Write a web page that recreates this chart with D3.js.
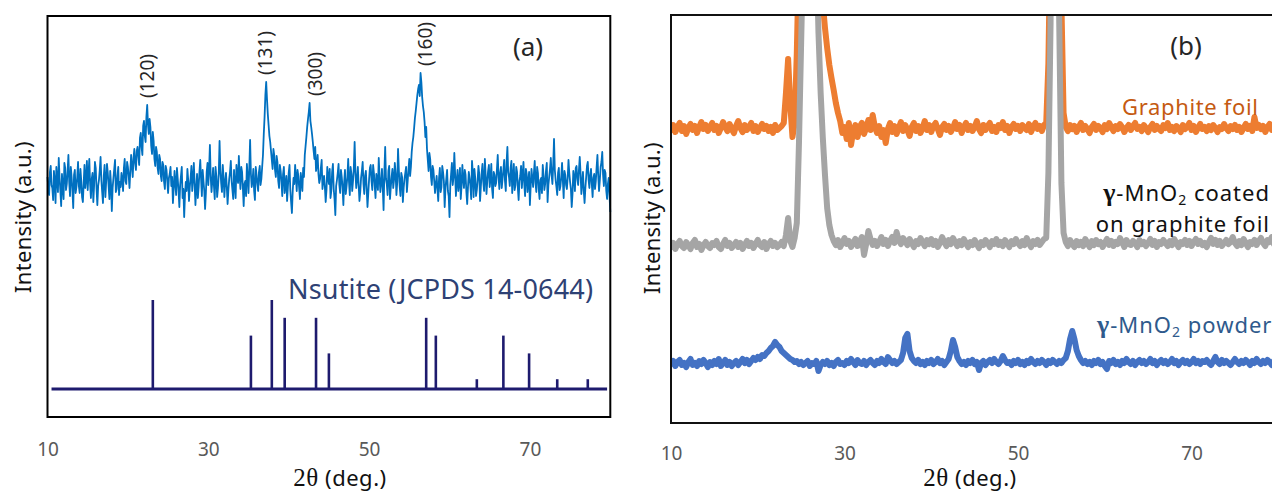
<!DOCTYPE html>
<html>
<head>
<meta charset="utf-8">
<script src="https://cdn.jsdelivr.net/npm/d3@7"></script>
<style>
  body { margin: 0; background: #fff; }
  svg { display: block; font-family: "Noto Sans", "Open Sans", sans-serif; }
</style>
</head>
<body>
<div id="chart"></div>
<script>
// ---- panel (a): measured pattern, 2theta from 10 to 80 step 0.1 ----
var scanStart = 10;
var scanEnd = 80;
var measuredA = [
  // 10.0 - 19.0
  240,228,222,245,251,232,229,217,246,236,214,250,238,225,259,239,226,211,243,230,
  218,254,249,227,233,246,262,235,221,250,240,226,209,242,247,224,230,240,255,231,
  224,248,236,220,215,234,252,229,238,256,227,243,258,233,219,238,244,215,232,255,
  249,228,212,231,237,247,260,237,225,214,241,252,220,236,253,244,231,218,246,233,
  206,229,239,248,257,225,228,241,250,222,235,
  230,
  // 19.2 - 25.2 (120)
  244,238,226,249,258,236,233,255,250,241,229,246,262,251,240,259,268,254,247,266,
  270,261,252,279,284,270,262,291,296,281,275,300,312,292,283,298,290,271,263,285,
  276,258,251,270,265,249,243,262,258,241,236,255,252,235,228,251,247,236,224,239,243,
  250,
  // 25.4 - 36.4
  231,240,214,229,246,233,222,249,238,226,210,232,241,250,219,228,200,222,235,226,
  248,237,216,230,239,251,226,238,254,233,212,229,243,219,230,245,257,238,221,247,
  236,226,208,224,245,254,232,248,272,240,225,236,249,231,218,250,241,220,229,243,
  276,247,234,225,252,239,220,235,244,230,213,227,238,245,256,236,227,218,247,231,
  219,252,240,234,261,241,228,250,245,229,211,233,236,221,253,240,224,249,277,243,
  230,236,248,226,217,250,242,233,226,245,251,
  232,
  // 36.6 - 39.0 (131)
  238,250,262,283,300,322,335,318,303,292,281,275,266,257,248,268,262,247,240,261,
  255,236,229,252,246,
  235,
  // 39.2 - 41.8
  221,243,250,224,232,241,216,230,244,252,227,215,204,226,239,233,252,240,226,247,
  241,229,218,244,236,226,249,
  240,
  // 42.0 - 44.0 (300)
  262,271,280,290,298,305,314,296,290,283,275,266,258,270,246,252,262,243,234,238,249,
  257,
  // 44.2 - 54.6
  228,236,241,230,215,227,250,240,233,248,219,226,245,253,228,218,202,231,237,244,
  253,232,224,247,240,229,212,235,247,223,231,240,258,235,222,250,243,226,236,249,
  275,244,229,238,250,232,216,225,239,246,255,233,223,241,246,228,210,224,238,249,
  252,236,227,252,244,231,219,243,236,227,259,240,225,234,248,229,207,245,270,238,
  233,222,246,251,218,230,240,248,229,237,254,243,222,235,268,247,231,221,244,240,
  215,229,238,244,250,
  225,
  // 54.8 - 58.0 (160)
  236,248,258,241,250,265,274,280,289,299,306,314,322,328,332,321,344,335,320,311,
  305,295,280,290,268,257,246,264,258,240,232,251,247,
  236,
  // 58.2 - 80.0
  224,233,241,228,216,239,249,225,230,251,245,236,210,229,238,247,226,221,200,232,
  243,254,232,240,264,243,221,236,247,226,234,249,218,231,252,238,229,247,242,225,
  213,230,245,239,231,218,256,244,220,248,239,221,227,237,251,243,216,230,244,253,
  235,226,258,241,223,236,246,252,230,238,253,228,219,245,242,231,234,248,262,240,
  228,244,250,229,238,247,257,236,226,255,270,245,240,231,249,256,224,239,253,227,
  232,250,245,229,217,236,241,251,229,242,255,233,221,248,243,225,236,245,212,231,
  248,239,230,244,256,234,225,250,244,228,218,237,239,224,252,241,227,233,246,254,
  215,232,240,248,259,242,233,252,278,247,237,230,222,244,249,227,231,240,254,236,
  219,246,242,232,228,239,257,244,235,228,210,223,246,240,226,249,251,238,232,247,
  260,244,223,234,245,226,214,229,240,251,255,237,229,242,248,233,220,239,243,228,
  236,250,262,241,226,237,250,255,265,242,231,247,244,226,218,233,239,222,205
];

// reference sticks, Nsutite JCPDS 14-0644 (2theta, relative intensity %)
var refPos = [23.1, 35.3, 37.9, 39.5, 43.4, 45.0, 57.1, 58.3, 63.4, 66.7, 69.9, 73.4, 77.2];
var refInt = [100, 60, 100, 80, 80, 40, 80, 60, 11, 60, 40, 11, 11];
var refSpan = [10.5, 79.6];

var hklLabels = ["(120)", "(131)", "(300)", "(160)"];
var hklAngle = [22.4, 37.1, 43.3, 56.9];

// ---- panel (b): three patterns, 2theta from 10 step 0.25 ----
var stepB = 0.25;
var graphiteFoil = [
  293,298,291,296, 300,292,297,289, 295,299,293,297, 290,296,301,294, 298,292,296,300,
  293,297,290,295, 301,296,292,299, 294,290,297,302, 295,291,298,293, 296,300,292,297,
  291,295,299,294, 297,292,296,290, 298,293,295,297, 300,330,364,318, 286,300,370,470,
  560,650,740,800, 830,800,740,650, 560,480,420,395, 375,358,345,333, 320,310,302,290,
  296,284,300,278, 292,298,286,296, 300,289,295,303, 293,308,296,290, 297,286,293,280,
  294,300,291,297, 289,295,301,292, 298,293,287,296, 300,292,297,290, 295,302,293,298,
  291,297,300,294, 288,296,299,293, 297,291,295,301, 294,298,290,296, 300,293,297,292,
  296,302,294,290, 298,293,297,300, 292,296,291,298, 295,301,293,297, 290,296,299,294,
  297,292,298,295, 293,299,291,296, 300,294,297,292, 298,300,360,500, 700,800,700,500,
  420,310,296,292, 298,294,297,291, 296,300,293,297, 294,290,296,299, 293,297,295,291,
  298,294,300,296, 292,297,294,299, 296,291,295,298, 293,297,300,294, 296,292,298,295,
  291,296,299,293, 297,294,292,298, 295,300,293,296, 292,297,295,291, 298,294,296,300,
  293,297,291,295, 299,294,296,292, 297,293,298,295, 291,296,294,299, 295,292,297,294,
  298,293,296,291, 295,299,294,297, 292,306,295,298, 294,297,291,296, 299,293,296,294,
  297
];
var coatedFoil = [
  176,180,174,179, 182,177,175,181, 178,174,180,183, 176,179,173,178, 181,177,175,180,
  178,182,176,174, 179,183,177,180, 175,178,181,176, 180,174,178,182, 177,180,175,179,
  183,178,176,181, 174,179,182,177, 180,176,178,181, 177,188,205,182, 176,185,200,280,
  380,480,620,750, 820,760,620,480, 390,330,285,248, 215,198,188,182, 178,183,176,180,
  185,179,182,176, 180,184,177,181, 186,168,179,192, 184,178,182,177, 181,186,179,183,
  177,182,186,180, 191,183,179,185, 182,178,184,180, 176,182,179,185, 181,177,183,179,
  184,178,182,176, 180,186,181,177, 183,179,185,181, 177,182,178,184, 180,176,181,178,
  183,179,175,181, 178,183,180,176, 182,179,184,178, 181,177,183,180, 176,182,179,184,
  180,177,182,178, 185,180,176,182, 179,183,178,181, 184,185,250,400, 650,800,600,400,
  240,190,181,177, 183,179,176,182, 178,181,177,184, 180,176,182,178, 183,179,181,176,
  180,184,178,182, 177,181,179,185, 181,176,183,179, 178,182,180,176, 183,179,181,177,
  180,184,178,182, 176,181,179,183, 180,177,182,178, 184,180,176,181, 179,183,178,182,
  177,181,184,179, 182,178,180,176, 181,185,179,183, 178,182,177,180, 183,179,181,186,
  180,177,182,178, 184,180,176,181, 179,183,178,182, 185,180,177,183, 181,186,179,184,
  182
];
var mno2Powder = [
  59,62,57,61, 63,58,60,56, 61,64,58,60, 57,62,59,63, 60,56,61,58,
  62,59,64,57, 60,63,58,61, 57,60,62,58, 61,64,60,63, 59,62,65,63,
  66,64,68,67, 70,72,75,77, 81,78,76,72, 70,68,66,64, 63,61,62,59,
  61,58,60,62, 57,60,59,62, 52,58,61,59, 62,58,60,57, 61,63,59,60,
  58,62,60,64, 61,58,63,60, 59,62,58,61, 63,60,58,62, 60,64,61,59,
  66,63,60,62, 59,61,63,70, 85,89,72,65, 62,60,63,59, 61,58,62,60,
  63,59,61,64, 60,62,58,61, 64,72,83,76, 66,62,59,61, 58,62,60,63,
  59,61,53,60, 62,58,61,63, 60,64,61,59, 62,67,63,60, 61,58,62,60,
  63,59,61,58, 62,60,64,61, 59,62,60,63, 61,58,62,60, 63,61,59,62,
  60,63,65,72, 84,92,84,73, 67,63,60,62, 59,61,58,62, 60,63,59,61,
  57,54,62,60, 63,59,61,58, 62,60,64,61, 59,62,58,61, 63,60,62,59,
  61,64,60,62, 58,61,63,60, 62,59,61,64, 60,62,58,61, 63,60,62,59,
  61,64,60,62, 59,62,61,63, 60,58,62,66, 61,59,63,60, 62,60,58,61,
  64,61,59,62, 60,63,61,58, 62,60,64,61, 59,62,60,63, 61,58,62,60,
  61
];

var xTicks = [10, 30, 50, 70];

// uniform scan step of the measured pattern
var stepA = (scanEnd - scanStart) / (measuredA.length - 1);

var svg = d3.select("#chart").append("svg")
  .attr("width", 1272)
  .attr("height", 496);

// scales
var xA = d3.scaleLinear().domain([10, 80]).range([47.5, 610.3]);
var yA = d3.scaleLinear().domain([0, 400]).range([417, 17]);
var yRef = d3.scaleLinear().domain([0, 100]).range([389, 300]);
var xB = d3.scaleLinear().domain([10, 80]).range([671, 1278.3]);
var yB = d3.scaleLinear().domain([0, 408]).range([423, 15]);

function addAxis(x, y0, pad) {
  var g = svg.append("g")
    .attr("transform", "translate(0," + y0 + ")")
    .call(d3.axisBottom(x).tickValues(xTicks).tickSize(0).tickPadding(pad).tickFormat(d3.format("d")));
  g.select(".domain").remove();
  g.selectAll("text")
    .attr("fill", "#595959")
    .attr("font-size", 19)
    .attr("font-family", "\"Noto Sans\", sans-serif");
}

function xTitle(cx, y) {
  var t = svg.append("text")
    .attr("x", cx).attr("y", y)
    .attr("text-anchor", "middle")
    .attr("font-size", 22)
    .attr("letter-spacing", 0.5)
    .attr("fill", "#111");
  t.append("tspan").attr("font-family", "\"Liberation Serif\", serif").attr("font-size", 25).text("2θ");
  t.append("tspan").text(" (deg.)");
}

function yTitle(cx, cy) {
  svg.append("text")
    .attr("transform", "translate(" + cx + "," + cy + ") rotate(-90)")
    .attr("text-anchor", "middle")
    .attr("dominant-baseline", "central")
    .attr("font-size", 22)
    .attr("letter-spacing", 0.3)
    .attr("fill", "#111")
    .text("Intensity (a.u.)");
}

// ================= panel (a) =================
var lineA = d3.line()
  .x(function(d, i) { return xA(scanStart + i * stepA); })
  .y(function(d) { return yA(d); });

svg.append("path")
  .datum(measuredA)
  .attr("fill", "none")
  .attr("stroke", "#0070C0")
  .attr("stroke-width", 1.8)
  .attr("stroke-linejoin", "round")
  .attr("d", lineA);

// stick pattern
svg.append("line")
  .attr("x1", xA(refSpan[0])).attr("x2", xA(refSpan[1]))
  .attr("y1", yRef(0)).attr("y2", yRef(0))
  .attr("stroke", "#1E1B6E")
  .attr("stroke-width", 3);

svg.selectAll(".stick")
  .data(refPos)
  .enter().append("line")
  .attr("class", "stick")
  .attr("x1", function(d) { return xA(d); })
  .attr("x2", function(d) { return xA(d); })
  .attr("y1", yRef(0))
  .attr("y2", function(d, i) { return yRef(refInt[i]); })
  .attr("stroke", "#1E1B6E")
  .attr("stroke-width", 2.6);

// hkl labels above the peaks
hklLabels.forEach(function(lab, i) {
  var top = d3.max(measuredA.filter(function(d, j) {
    return Math.abs(scanStart + j * stepA - hklAngle[i]) <= 0.8;
  }));
  svg.append("text")
    .attr("transform", "translate(" + xA(hklAngle[i]) + "," + (yA(top) - 7) + ") rotate(-90)")
    .attr("dominant-baseline", "central")
    .attr("font-size", 19)
    .attr("fill", "#262626")
    .text(lab);
});

svg.append("rect")
  .attr("x", xA(10)).attr("y", 16)
  .attr("width", xA(80) - xA(10)).attr("height", 401)
  .attr("fill", "none")
  .attr("stroke", "#000")
  .attr("stroke-width", 2);

svg.append("text")
  .attr("x", 528).attr("y", 56)
  .attr("text-anchor", "middle")
  .attr("font-size", 26)
  .attr("fill", "#262626")
  .text("(a)");

svg.append("text")
  .attr("x", 288).attr("y", 299)
  .attr("font-size", 27)
  .attr("fill", "#2E4174")
  .attr("textLength", 305)
  .attr("lengthAdjust", "spacing")
  .text("Nsutite (JCPDS 14-0644)");

addAxis(xA, 417, 26);
xTitle(340, 486);
yTitle(22, 217);

// ================= panel (b) =================
svg.append("clipPath").attr("id", "clipB")
  .append("rect")
  .attr("x", xB(10)).attr("y", yB(408))
  .attr("width", xB(80) - xB(10)).attr("height", yB(0) - yB(408));

var lineB = d3.line()
  .x(function(d, i) { return xB(scanStart + i * stepB); })
  .y(function(d) { return yB(d); });

var seriesB = [
  { values: graphiteFoil, color: "#ED7D31" },
  { values: coatedFoil, color: "#A5A5A5" },
  { values: mno2Powder, color: "#4472C4" }
];

svg.append("g")
  .attr("clip-path", "url(#clipB)")
  .selectAll("path")
  .data(seriesB)
  .enter().append("path")
  .attr("fill", "none")
  .attr("stroke", function(d) { return d.color; })
  .attr("stroke-width", 6)
  .attr("stroke-linejoin", "round")
  .attr("stroke-linecap", "round")
  .attr("d", function(d) { return lineB(d.values); });

svg.append("rect")
  .attr("x", xB(10)).attr("y", yB(408))
  .attr("width", xB(80) - xB(10)).attr("height", yB(0) - yB(408))
  .attr("fill", "none")
  .attr("stroke", "#111")
  .attr("stroke-width", 2);

svg.append("text")
  .attr("x", 1186).attr("y", 55)
  .attr("text-anchor", "middle")
  .attr("font-size", 26)
  .attr("fill", "#262626")
  .text("(b)");

svg.append("text")
  .attr("x", 1258).attr("y", 115)
  .attr("text-anchor", "end")
  .attr("font-size", 22)
  .attr("fill", "#C55A11")
  .attr("textLength", 136)
  .attr("lengthAdjust", "spacing")
  .text("Graphite foil");

function mno2(t, rest) {
  t.append("tspan").attr("font-family", "\"Liberation Serif\", serif").attr("font-weight", "bold").attr("font-size", 26).text("γ");
  t.append("tspan").text("-MnO");
  t.append("tspan").attr("font-size", 14).attr("dy", 4).text("2");
  t.append("tspan").attr("dy", -4).text(rest);
}

var coated = svg.append("text")
  .attr("x", 1270).attr("y", 201)
  .attr("text-anchor", "end")
  .attr("font-size", 22)
  .attr("letter-spacing", 1)
  .attr("fill", "#111");
mno2(coated, " coated");

svg.append("text")
  .attr("x", 1270).attr("y", 232)
  .attr("text-anchor", "end")
  .attr("font-size", 22)
  .attr("letter-spacing", 1)
  .attr("fill", "#111")
  .text("on graphite foil");

var powder = svg.append("text")
  .attr("x", 1097).attr("y", 333)
  .attr("font-size", 22)
  .attr("letter-spacing", 1)
  .attr("fill", "#2F5A8C");
mno2(powder, " powder");

addAxis(xB, 423, 24);
xTitle(970, 486);
yTitle(651, 218);
</script>
</body>
</html>
